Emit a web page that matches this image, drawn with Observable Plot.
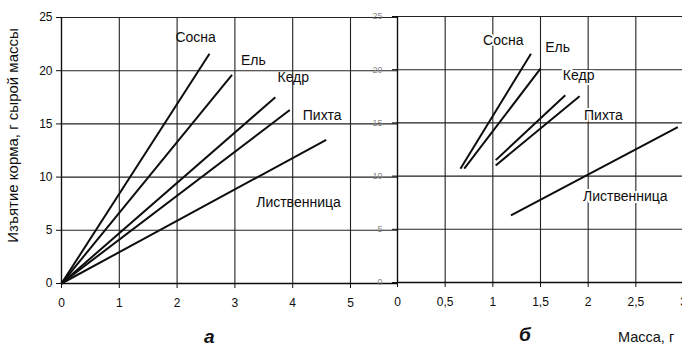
<!DOCTYPE html>
<html>
<head>
<meta charset="utf-8">
<script src="https://cdn.jsdelivr.net/npm/d3@7"></script>
<script src="https://cdn.jsdelivr.net/npm/@observablehq/plot@0.6"></script>
<style>
  body { margin: 0; background: #fff; font-family: "Liberation Sans", Arial, sans-serif; }
  #wrap { position: relative; width: 682px; height: 346px; overflow: hidden; background: #fff; }
  #wrap svg { position: absolute; top: 0; background: transparent; }
  .cap { position: absolute; color: #111; white-space: nowrap; line-height: 1; }
  .panel { font-weight: bold; font-style: italic; font-size: 19px; }
  .xtitle { font-size: 14.5px; }
</style>
</head>
<body>
<div id="wrap"></div>
<script>
// Species (same order in both panels)
const species = ["Сосна", "Ель", "Кедр", "Пихта", "Лиственница"];

// Panel а: straight lines from the origin, end points
const aStartX = [0, 0, 0, 0, 0];
const aStartY = [0, 0, 0, 0, 0];
const aEndX = [2.56, 2.95, 3.70, 3.95, 4.58];
const aEndY = [21.6, 19.6, 17.5, 16.3, 13.5];
const aLabelX = [2.32, 3.32, 4.01, 4.51, 4.10];
const aLabelY = [23.1, 21.0, 19.4, 15.8, 7.6];

// Panel б: line segments
const bStartX = [0.66, 0.70, 1.03, 1.03, 1.19];
const bStartY = [10.7, 10.7, 11.5, 11.0, 6.3];
const bEndX = [1.40, 1.50, 1.76, 1.91, 2.94];
const bEndY = [21.5, 20.1, 17.6, 17.5, 14.6];
const bLabelX = [1.11, 1.68, 1.90, 2.16, 2.39];
const bLabelY = [22.7, 22.1, 19.5, 15.7, 8.1];

// Axis ticks
const yTicks = [0, 5, 10, 15, 20, 25];
const aTicks = [0, 1, 2, 3, 4, 5];
const bTicks = [0, 0.5, 1, 1.5, 2, 2.5, 3];

const yTitle = "Изъятие корма, г сырой массы";

const rowsA = species.map((name, i) => ({
  name, x0: aStartX[i], y0: aStartY[i], x1: aEndX[i], y1: aEndY[i], lx: aLabelX[i], ly: aLabelY[i]
}));
const rowsB = species.map((name, i) => ({
  name, x0: bStartX[i], y0: bStartY[i], x1: bEndX[i], y1: bEndY[i], lx: bLabelX[i], ly: bLabelY[i]
}));

const gridColor = "#222";
const ink = "#0d0d0d";
const comma = d => String(d).replace(".", ",");

const plotA = Plot.plot({
  width: 397,
  height: 346,
  marginLeft: 61,
  marginRight: 0,
  marginTop: 17,
  marginBottom: 63,
  style: { background: "transparent", fontFamily: "Liberation Sans, Arial, sans-serif", color: ink, overflow: "visible" },
  x: { domain: [0, 5], range: [61, 350] },
  y: { domain: [0, 25] },
  marks: [
    Plot.gridX(aTicks, { stroke: gridColor, strokeOpacity: 1, strokeWidth: 1.1 }),
    Plot.gridY(yTicks, { stroke: gridColor, strokeOpacity: 1, strokeWidth: 1.1 }),
    Plot.ruleY([0], { stroke: ink, strokeWidth: 1.3 }),
    Plot.ruleX([0], { stroke: ink, strokeWidth: 1.3 }),
    Plot.axisX(aTicks, { tickSize: 5, tickPadding: 10, fontSize: 12, label: null, tickFormat: comma }),
    Plot.axisY(yTicks, { tickSize: 5, tickPadding: 4, fontSize: 12, label: null }),
    Plot.text([yTitle], {
      frameAnchor: "left", textAnchor: "middle", dx: -48, dy: -15, rotate: -90,
      fontSize: 15, fill: ink, letterSpacing: "1.4px"
    }),
    Plot.link(rowsA, { x1: "x0", y1: "y0", x2: "x1", y2: "y1", stroke: ink, strokeWidth: 2 }),
    Plot.text(rowsA, { x: "lx", y: "ly", text: "name", fontSize: 14, fill: ink })
  ]
});

const plotB = Plot.plot({
  width: 322,
  height: 346,
  marginLeft: 37,
  marginRight: 0,
  marginTop: 16,
  marginBottom: 64,
  style: { background: "transparent", fontFamily: "Liberation Sans, Arial, sans-serif", color: ink, overflow: "visible" },
  x: { domain: [0, 3], range: [37, 323] },
  y: { domain: [0, 25] },
  marks: [
    Plot.gridX(bTicks, { stroke: gridColor, strokeOpacity: 1, strokeWidth: 1.1 }),
    Plot.gridY(yTicks, { stroke: gridColor, strokeOpacity: 1, strokeWidth: 1.1 }),
    Plot.ruleY([0], { stroke: ink, strokeWidth: 1.3 }),
    Plot.ruleX([0], { stroke: ink, strokeWidth: 1.3 }),
    Plot.axisX(bTicks, { tickSize: 5, tickPadding: 10, fontSize: 12, label: null, tickFormat: comma }),
    Plot.axisY(yTicks, { tickSize: 5, tickPadding: 10, fontSize: 9, label: null, fill: "#8a8a8a", stroke: ink }),
    Plot.link(rowsB, { x1: "x0", y1: "y0", x2: "x1", y2: "y1", stroke: ink, strokeWidth: 2 }),
    Plot.text(rowsB, { x: "lx", y: "ly", text: "name", fontSize: 14, fill: ink, stroke: "#fff", strokeWidth: 4 })
  ]
});

const wrap = document.getElementById("wrap");
plotA.style.left = "0px";
plotB.style.left = "360px";
wrap.appendChild(plotA);
wrap.appendChild(plotB);

function caption(text, cls, left, top) {
  const d = document.createElement("div");
  d.className = "cap " + cls;
  d.textContent = text;
  d.style.left = left + "px";
  d.style.top = top + "px";
  wrap.appendChild(d);
}
caption("а", "panel", 204, 327);
caption("б", "panel", 519, 325);
caption("Масса, г", "xtitle", 618, 330);
</script>
</body>
</html>
